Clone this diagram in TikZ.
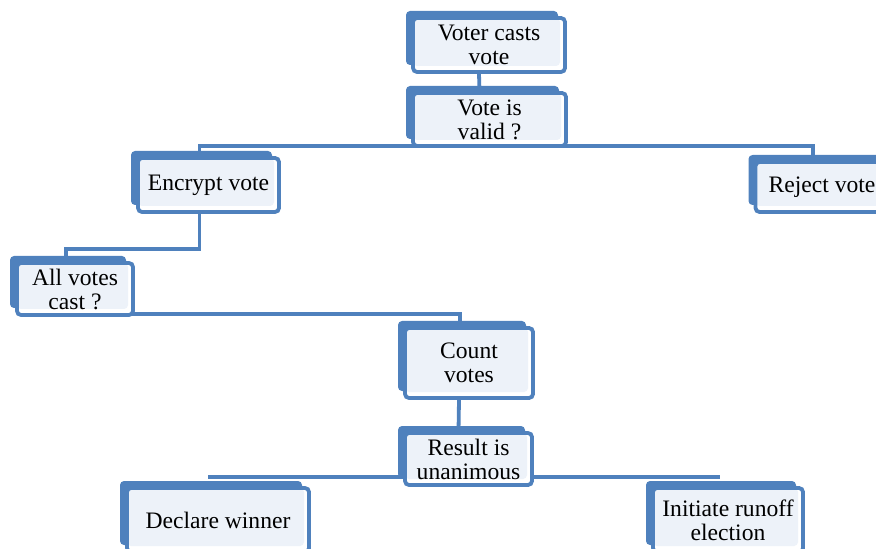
\documentclass[tikz,border=0pt]{standalone}
\usepackage{fontspec}
\setmainfont{Liberation Serif}
\usetikzlibrary{shadows,backgrounds}
\definecolor{boxblue}{HTML}{4F81BD}
\definecolor{boxfill}{HTML}{EDF2F9}
\tikzstyle{box}=[rectangle,rounded corners=2pt,draw=boxblue,line width=1.9pt,
fill=white,align=center,inner sep=1pt,font=\fontsize{11.8pt}{12pt}\selectfont,
path picture={\fill[boxfill] (path picture bounding box.north west)
rectangle ([shift={(-2.5pt,3pt)}]path picture bounding box.south east);},
general shadow={fill=boxblue,shadow xshift=-3.5pt,shadow yshift=3.5pt,
xscale=0.94,yscale=0.87}]
\tikzstyle{link}=[draw=boxblue,line width=1.9pt]

\begin{document}
\begin{tikzpicture}[x=0.5pt,y=-0.5pt]
    \useasboundingbox (0,0) rectangle (876,549);
        \node (vote) [box,minimum width=76pt,minimum height=27pt] at (489,45) {Voter casts\\vote};
        \node (valid) [box,minimum width=76.5pt,minimum height=26.5pt] at (489.5,119.5) {Vote is\\valid ?};
        \node (encrypt) [box,minimum width=70.5pt,minimum height=27pt] at (208.5,185) {Encrypt vote};
        \node (reject) [box,minimum width=66.5pt,minimum height=25pt] at (822,187) {Reject vote};
        \node (allcast) [box,minimum width=58pt,minimum height=26pt] at (75,289) {All votes\\cast ?};
        \node (count) [box,minimum width=64pt,minimum height=35pt] at (469,363) {Count\\votes};
        \node (result) [box,minimum width=63.5pt,minimum height=26pt] at (468.5,459) {Result is\\unanimous};
        \node (winner) [box,minimum width=91pt,minimum height=32pt] at (218,520) {Declare winner};
        \node (runoff) [box,minimum width=75pt,minimum height=32pt] at (728,520) {Initiate runoff\\election};

    \begin{scope}[on background layer]
        \draw [link] ([xshift=-5pt]vote.south) -- ([xshift=-5pt]valid.north);
        \draw [link] ([xshift=-4.5pt]encrypt.north) |- ([yshift=1pt]valid.south) -| ([xshift=-4.5pt]reject.north);
        \draw [link] ([xshift=-4.5pt]encrypt.south) -- ++(0,35) -| ([xshift=-4.5pt]allcast.north);
        \draw [link] ([yshift=1.5pt]allcast.south) -| ([xshift=-4.5pt]count.north);
        \draw [link] ([xshift=-5pt]count.south) -- ([xshift=-5pt]result.north);
        \draw [link] ([xshift=-5pt,yshift=5pt]result.south -| winner.north) -- ([xshift=-4pt,yshift=5pt]result.south -| runoff.north);
    \end{scope}
\end{tikzpicture}
\end{document}
